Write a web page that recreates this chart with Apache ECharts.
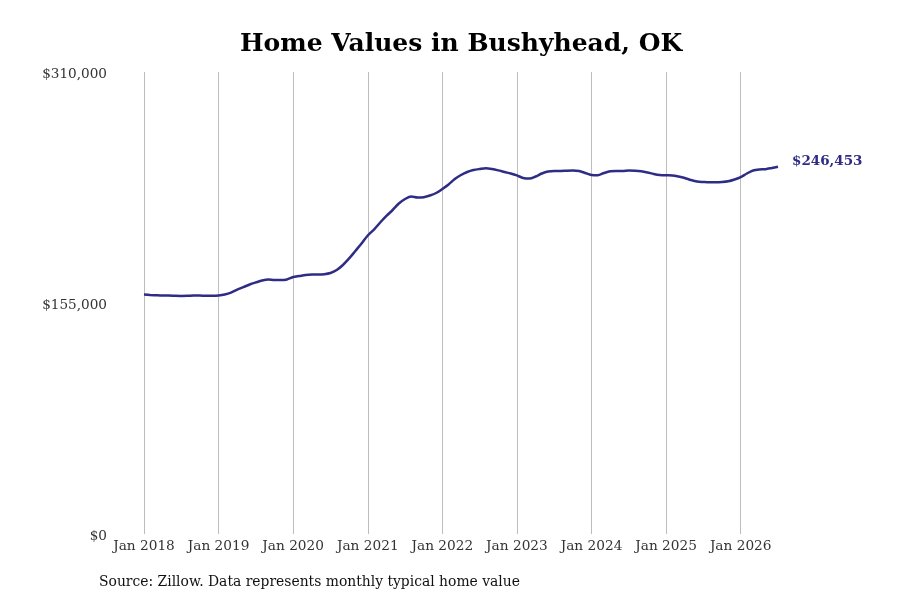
<!DOCTYPE html>
<html>
<head>
<meta charset="utf-8">
<script src="https://cdn.jsdelivr.net/npm/echarts@6/dist/echarts.min.js"></script>
<style>html,body{margin:0;padding:0;background:#fff;}#chart{width:900px;height:600px;}</style>
</head>
<body>
<div id="chart"></div>
<script>
var titleText = "Home Values in Bushyhead, OK";
var sourceText = "Source: Zillow. Data represents monthly typical home value";
var years = [2018, 2019, 2020, 2021, 2022, 2023, 2024, 2025, 2026];
var monthNames = ["Jan","Feb","Mar","Apr","May","Jun","Jul","Aug","Sep","Oct","Nov","Dec"];
var lastMonthCount = 7; // data runs through Jul 2026
var yTicks = [0, 155000, 310000];

var values2018 = [160700,160400,160150,160000,160000,159800,159700,159800,160000,159950,159800,159800];
var values2019 = [160000,160700,162000,164000,165700,167400,168800,170100,170800,170400,170400,170800];
var values2020 = [172400,173100,173800,174100,174100,174300,175100,177100,180500,184900,189900,194900];
var values2021 = [200300,204300,209000,213400,217400,221800,224800,226500,225800,226000,227100,228800];
var values2022 = [231500,234500,238200,240900,242900,244200,244900,245400,244900,244000,242900,241900];
var values2023 = [240600,238900,238500,239900,241900,243200,243600,243600,243800,243900,243600,242200];
var values2024 = [240900,240700,242200,243400,243600,243600,243900,243800,243400,242600,241600,240900];
var values2025 = [240700,240600,239900,238900,237500,236500,236200,236000,236000,236200,236700,237900];
var values2026 = [239500,241900,243900,244600,244800,245600,246453];

var values = [].concat(values2018, values2019, values2020, values2021, values2022, values2023, values2024, values2025, values2026);
var categories = [];
years.forEach(function (y, yi) {
  var n = (yi === years.length - 1) ? lastMonthCount : 12;
  for (var m = 0; m < n; m++) categories.push(monthNames[m] + " " + y);
});

var lineColor = "#2e2c85";
var chart = echarts.init(document.getElementById("chart"), null, {renderer: "canvas"});
chart.setOption({
  backgroundColor: "#ffffff",
  animation: false,
  title: {
    text: titleText,
    left: 235,
    top: 27,
    textStyle: {fontFamily: "DejaVu Serif", fontWeight: "bold", fontSize: 25, color: "#000"}
  },
  graphic: [{
    type: "text",
    left: 99,
    top: 575,
    style: {text: sourceText, fontFamily: "DejaVu Serif", fontSize: 13.9, fill: "#111"}
  }],
  grid: {left: 144, right: 122, top: 72, bottom: 66, containLabel: false},
  xAxis: {
    type: "category",
    data: categories,
    boundaryGap: false,
    axisLine: {show: false},
    axisTick: {show: false},
    axisLabel: {
      interval: function (i) { return i % 12 === 0; },
      fontFamily: "DejaVu Serif",
      fontSize: 13.7,
      color: "#333",
      margin: 5
    },
    splitLine: {
      show: true,
      interval: function (i) { return i % 12 === 0; },
      lineStyle: {color: "#bdbdbd", width: 1}
    }
  },
  yAxis: {
    type: "value",
    min: yTicks[0],
    max: yTicks[yTicks.length - 1],
    interval: yTicks[1] - yTicks[0],
    axisLine: {show: false},
    axisTick: {show: false},
    splitLine: {show: false},
    axisLabel: {
      fontFamily: "DejaVu Serif",
      fontSize: 13.6,
      color: "#333",
      margin: 37,
      formatter: function (v) { return "{a|$" + v.toLocaleString("en-US") + "}"; },
      rich: {
        a: {fontFamily: "DejaVu Serif", fontSize: 13.6, color: "#333", padding: [4, 0, 0, 0]}
      }
    }
  },
  series: [{
    type: "line",
    data: values,
    smooth: 0.3,
    symbol: "none",
    lineStyle: {color: lineColor, width: 2.5},
    endLabel: {
      show: true,
      distance: 14,
      formatter: function (p) { return "$" + Number(p.value).toLocaleString("en-US"); },
      fontFamily: "DejaVu Serif",
      fontWeight: "bold",
      fontSize: 13.5,
      color: lineColor,
      offset: [0, -5]
    }
  }]
});
</script>
</body>
</html>
